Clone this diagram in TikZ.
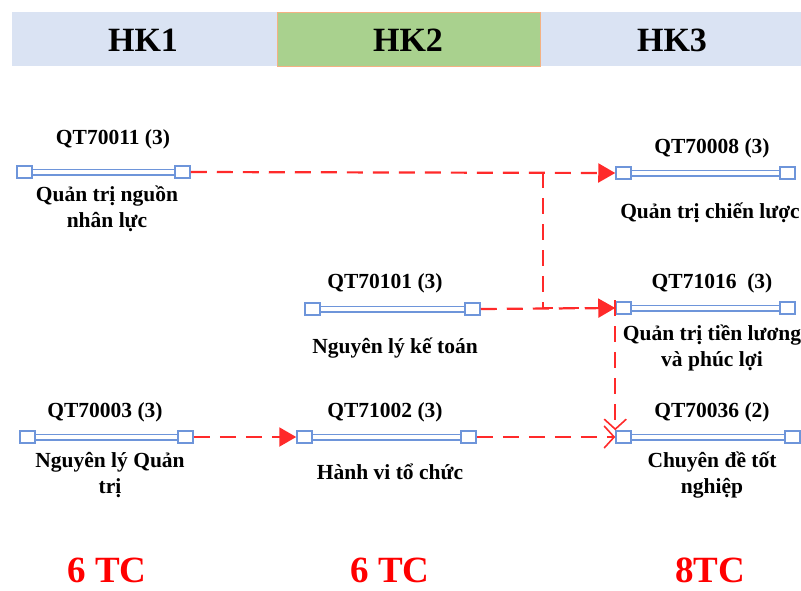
\documentclass[tikz,border=0pt]{standalone}
\usepackage{fontspec}
\setmainfont{Liberation Serif}
\usetikzlibrary{arrows.meta}
\definecolor{hdr}{HTML}{DAE3F3}
\definecolor{grn}{HTML}{A9D18E}
\definecolor{org}{HTML}{F4B183}
\definecolor{barblue}{HTML}{6E95DA}
\definecolor{lred}{HTML}{FF2A2A}
\tikzset{
  barline/.style={draw=barblue, double=white, double distance=4pt, line width=1.5pt},
  endsq/.style={draw=barblue, fill=white, line width=1.5pt, rectangle, minimum width=15pt, minimum height=12pt, inner sep=0pt},
  lbl/.style={font=\bfseries\fontsize{21.5}{26}\selectfont, align=center, inner sep=0pt},
  hk/.style={font=\bfseries\fontsize{34}{34}\selectfont, inner sep=0pt},
  tc/.style={font=\bfseries\fontsize{37}{37}\selectfont, text=red, inner sep=0pt, anchor=base},
  conn/.style={draw=lred, line width=2.2pt, dash pattern=on 16pt off 10pt},
  tri/.style={-{Triangle[length=17pt,width=19pt]}},
  barb/.style={-{Straight Barb[length=10pt,width=22pt,line width=1.6pt]}}
}
\newcommand{\coursebar}[4]{%
  \draw[barline] (#2,#4) -- (#3,#4);
  \node[endsq] (#1-l) at ({#2+7.5},#4) {};
  \node[endsq] (#1-r) at ({#3-7.5},#4) {};
}
\begin{document}
\begin{tikzpicture}[x=1pt,y=-1pt]
\useasboundingbox (0,0) rectangle (801,590);
% header
\fill[hdr] (12,12) rectangle (801,66);
\filldraw[fill=grn, draw=org, line width=1pt] (277,12) rectangle (540,66);
\node[hk] (hk1) at (143,40) {HK1};
\node[hk] (hk2) at (408,40) {HK2};
\node[hk] (hk3) at (672,40) {HK3};

% bars
\coursebar{A}{17}{190}{172}
\coursebar{B}{616}{795}{173}
\coursebar{C}{305}{480}{309}
\coursebar{D}{616}{795}{308}
\coursebar{E}{20}{193}{437}
\coursebar{F}{297}{476}{437}
\coursebar{G}{616}{800}{437}

% labels
\node[lbl] (tA) at (113,139) {QT70011 (3)};
\node[lbl] (nA) at (107,209) {Quản trị nguồn\\nhân lực};
\node[lbl] (tB) at (712,148) {QT70008 (3)};
\node[lbl] (nB) at (710,213) {Quản trị chiến lược};
\node[lbl] (tC) at (385,283) {QT70101 (3)};
\node[lbl] (nC) at (395,348) {Nguyên lý kế toán};
\node[lbl] (tD) at (712,283) {QT71016\ \ (3)};
\node[lbl] (nD) at (712,348) {Quản trị tiền lương\\và phúc lợi};
\node[lbl] (tE) at (105,412) {QT70003 (3)};
\node[lbl] (nE) at (110,475) {Nguyên lý Quản\\trị};
\node[lbl] (tF) at (385,412) {QT71002 (3)};
\node[lbl] (nF) at (390,472) {Hành vi tổ chức};
\node[lbl] (tG) at (712,412) {QT70036 (2)};
\node[lbl] (nG) at (712,475) {Chuyên đề tốt\\nghiệp};

% credit totals
\node[tc] (c1) at (107,582) {6 TC};
\node[tc] (c2) at (390,582) {6 TC};
\node[tc] (c3) at (710,582) {8TC};

% connectors
\coordinate (J1) at (543,172);
\draw[conn,tri] (A-r.east) -- (B-l.west);
\draw[conn] (J1) |- (D-l.west);
\draw[conn,tri] (C-r.east) -- (D-l.west);
\draw[conn,barb] ([yshift=8pt]D-l.west) -- (G-l.north west);
\draw[conn,tri] (E-r.east) -- (F-l.west);
\draw[conn,barb] (F-r.east) -- (G-l.west);
\end{tikzpicture}
\end{document}
